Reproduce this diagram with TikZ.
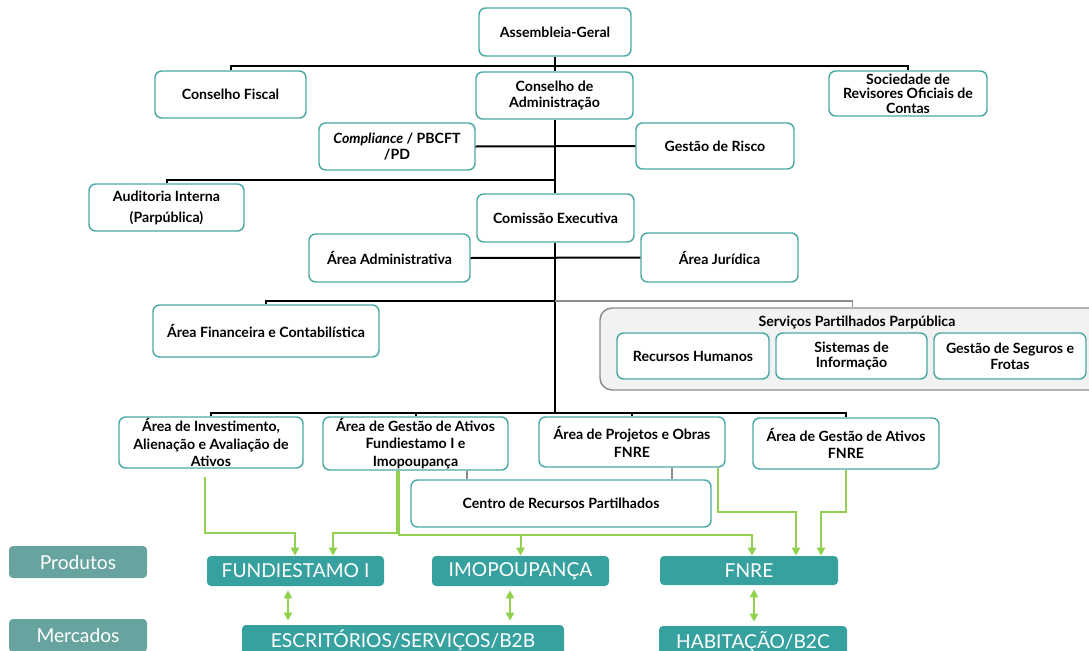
\documentclass[tikz,border=0pt]{standalone}
\usepackage{fontspec}
\setmainfont{Lato}
\usetikzlibrary{arrows.meta}
\definecolor{caixa}{HTML}{4AA9A7}
\definecolor{produto}{HTML}{37A19F}
\definecolor{rotulo}{HTML}{67A49F}
\definecolor{fluxo}{HTML}{92D050}
\definecolor{partilha}{HTML}{F2F2F2}
\definecolor{contorno}{HTML}{8C8C8C}
\begin{document}
\begin{tikzpicture}[x=0.75pt,y=-0.75pt,
		tam/.style 2 args={minimum width=#1*0.75pt,minimum height=#2*0.75pt},
		caixa/.style={draw=caixa,line width=1.1pt,rounded corners=5pt,fill=white,align=center,inner sep=1pt,font=\bfseries\fontsize{10.6}{11.8}\selectfont},
		area/.style={caixa,font=\bfseries\fontsize{10.6}{13}\selectfont},
		produto/.style={fill=produto,rounded corners=3pt,text=white,inner sep=0pt,font=\fontsize{14.4}{16}\selectfont},
		rotulo/.style={produto,fill=rotulo},
		liga/.style={line width=1.5pt},
		tronco/.style={line width=2.1pt},
		cinza/.style={draw=contorno,line width=1.2pt},
		fluxo/.style={draw=fluxo,line width=1.5pt,-{Triangle[width=6pt,length=6pt]}},
		duplo/.style={draw=fluxo,line width=1.5pt,{Triangle[width=6pt,length=6pt]}-{Triangle[width=6pt,length=6pt]}}]
	\useasboundingbox (0,0) rectangle (1089,650);
	%
	% orgaos sociais
	\node[caixa,tam={152}{48}] (ag) at (555,32) {Assembleia-Geral};
	\node[caixa,tam={151}{47}] (cf) at (230.5,94.5) {Conselho Fiscal};
	\node[caixa,tam={157}{47}] (ca) at (554.5,95.5) {Conselho de\\Administração};
	\node[caixa,tam={158}{45},font=\bfseries\fontsize{10.6}{10.9}\selectfont] (sroc) at (908,93.5) {Sociedade de\\Revisores Oficiais de\\Contas};
	\node[caixa,tam={156}{47}] (comp) at (397,146.5) {\textit{Compliance} / PBCFT\\/PD};
	\node[caixa,tam={158}{46}] (risco) at (715,146) {Gestão de Risco};
	\node[caixa,tam={155}{47}] (audit) at (166.5,207.5) {Auditoria Interna\\[4pt](Parpública)};
	\node[caixa,tam={157}{48}] (ce) at (555.5,218) {Comissão Executiva};
	\node[caixa,tam={161}{48}] (adm) at (389.5,258) {Área Administrativa};
	\node[caixa,tam={157}{49}] (jur) at (719.5,257.5) {Área Jurídica};
	\node[caixa,tam={226}{52}] (fin) at (266,331) {Área Financeira e Contabilística};
	%
	% servicos partilhados
	\node[draw=contorno,fill=partilha,line width=1.1pt,rounded corners=9pt,tam={505}{82}] (spp) at (852.5,349) {};
	\node[font=\bfseries\fontsize{10.6}{11.8}\selectfont,inner sep=0pt] (spptit) at (857,322) {Serviços Partilhados Parpública};
	\node[caixa,tam={152}{46}] (rh) at (693,356) {Recursos Humanos};
	\node[caixa,tam={151}{46}] (si) at (851.5,356) {Sistemas de\\Informação};
	\node[caixa,tam={152}{46}] (gsf) at (1010,356) {Gestão de Seguros e\\Frotas};
	%
	% areas operacionais
	\node[area,tam={184}{51}] (inv) at (211,442.5) {Área de Investimento,\\Alienação e Avaliação de\\Ativos};
	\node[area,tam={185}{51}] (gaf) at (415.5,443.5) {Área de Gestão de Ativos\\Fundiestamo I e\\Imopoupança};
	\node[area,tam={186}{50}] (proj) at (632,442) {Área de Projetos e Obras\\FNRE};
	\node[area,tam={186}{51}] (gfnre) at (846,443.5) {Área de Gestão de Ativos\\FNRE};
	\node[caixa,tam={300}{47}] (crp) at (561,503.5) {Centro de Recursos Partilhados};
	%
	% produtos e mercados
	\node[rotulo,tam={138}{32}] (prod) at (78,562) {Produtos};
	\node[rotulo,tam={138}{33}] (merc) at (78,635.5) {Mercados};
	\node[produto,tam={177}{30}] (fund) at (295.5,571) {FUNDIESTAMO I};
	\node[produto,tam={177}{30}] (imo) at (520.5,571) {IMOPOUPANÇA};
	\node[produto,tam={178}{29}] (fnre) at (749,570.5) {FNRE};
	\node[produto,tam={322}{31}] (escr) at (403,640.5) {ESCRITÓRIOS/SERVIÇOS/B2B};
	\node[produto,tam={188}{31}] (hab) at (753,641.5) {HABITAÇÃO/B2C};
	%
	\coordinate (j1) at (555,66);
	\coordinate (j2) at (555,180);
	\coordinate (j3) at (555,301);
	\coordinate (j5) at (555,413);
	%
	\draw[tronco] (ag.south -| j5) -- (ca.north -| j5) (ca.south -| j5) -- (ce.north -| j5) (ce.south -| j5) -- (j5);
	\draw[liga] (cf.north) |- (j1) -| (sroc.north);
	\draw[liga] (comp.east) -- (risco.west);
	\draw[liga] (audit.north) |- (j2);
	\draw[liga] (adm.east) -- (jur.west);
	\draw[liga] (fin.north) |- (j3);
	\draw[cinza] (j3) -| (spp.north);
	\draw[liga] (inv.north) |- (j5) -| (gfnre.north);
	\draw[liga] (gaf.north) -- (gaf.north |- j5);
	\draw[liga] (proj.north) -- (proj.north |- j5);
	%
	\draw[cinza,line width=0.8pt] (gaf.south -| 467,0) -- (crp.north -| 467,0);
	\draw[cinza,line width=0.8pt] (proj.south -| 672,0) -- (crp.north -| 672,0);
	%
	\draw[fluxo] (205,477) -- (205,533) -| (fund.north -| 295,0);
	\draw[fluxo] (gaf.south -| 397,0) -- (397,533) -| (fund.north -| 333,0);
	\draw[fluxo] (gaf.south -| 399,0) -- (399,535) -| (fnre.north -| 752,0);
	\draw[fluxo] (imo.north |- 0,535) -- (imo.north);
	\draw[fluxo] (proj.south -| 718,0) -- (718,512) -| (fnre.north -| 796,0);
	\draw[fluxo] (gfnre.south) -- (846,512) -| (fnre.north -| 821,0);
	%
	\draw[duplo,shorten <=3pt,shorten >=3pt] (fund.south -| 288,0) -- (escr.north -| 288,0);
	\draw[duplo,shorten <=3pt,shorten >=3pt] (imo.south -| 510,0) -- (escr.north -| 510,0);
	\draw[duplo,shorten <=3pt,shorten >=3pt] (fnre.south -| 754,0) -- (hab.north -| 754,0);
\end{tikzpicture}
\end{document}
